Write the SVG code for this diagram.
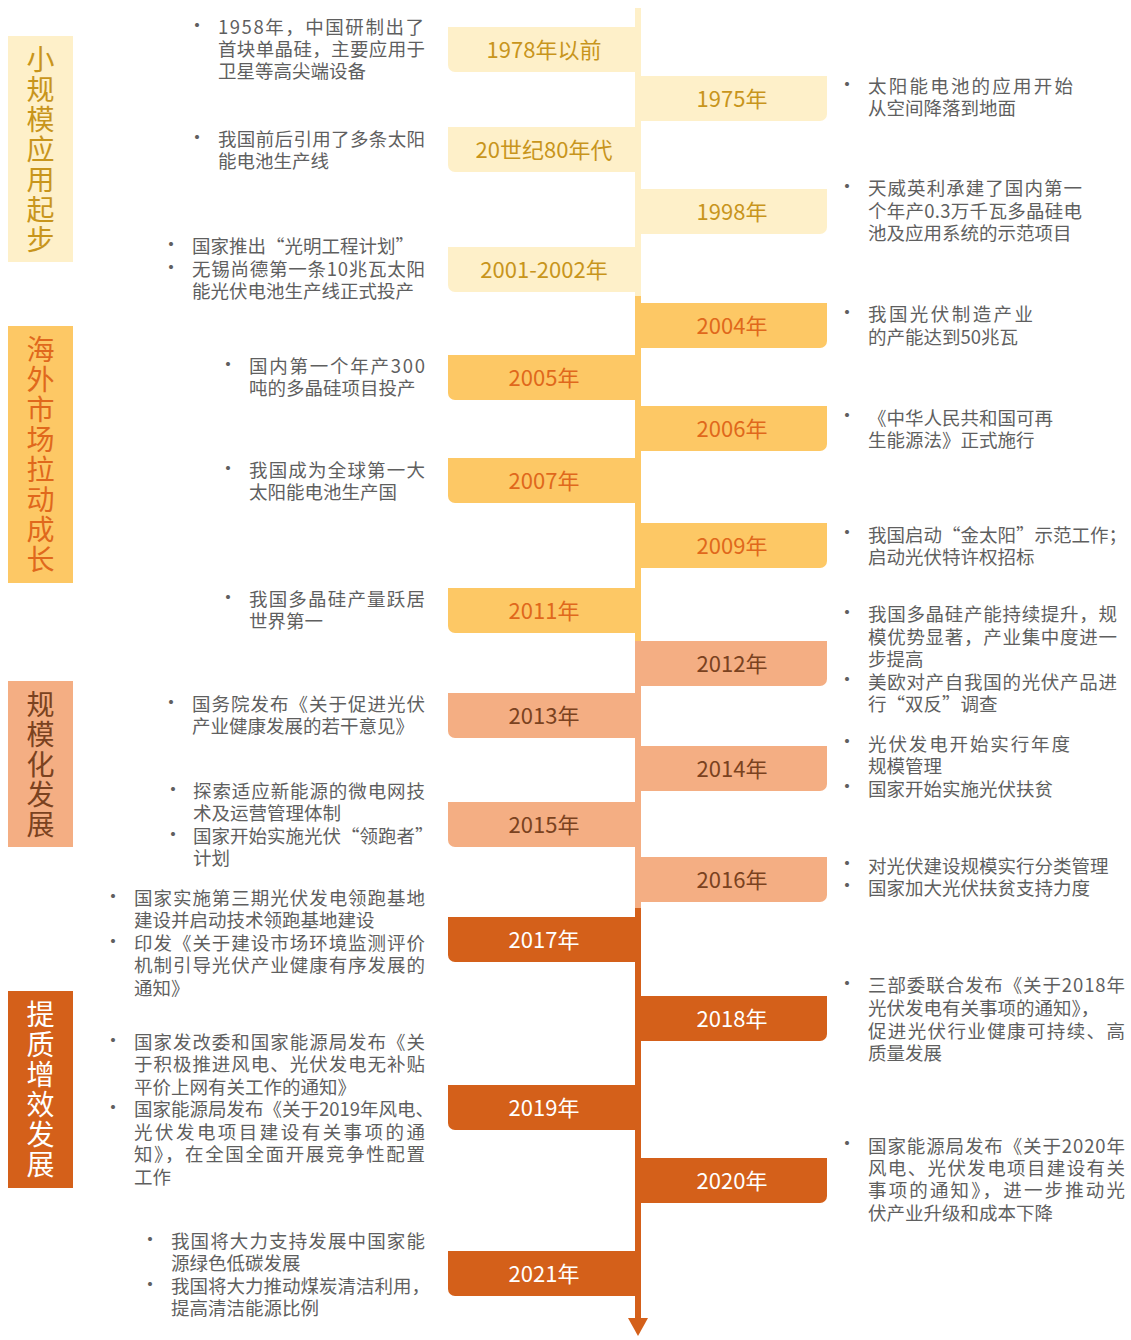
<svg xmlns="http://www.w3.org/2000/svg" width="1131" height="1340" viewBox="0 0 1131 1340">
<style>
text{font-family:"Noto Sans CJK SC","Noto Sans",sans-serif;}
.d{font-size:18.5px;fill:#5f5f5f;}
.b{font-size:19px;fill:#5f5f5f;text-anchor:middle;}
.y{font-size:22px;text-anchor:middle;}
.s{font-size:28px;text-anchor:middle;writing-mode:vertical-rl;letter-spacing:2px;}
.f1{fill:#FEF0C9;} .f2{fill:#FDC865;} .f3{fill:#F4AE83;} .f4{fill:#D4601A;}
.t1{fill:#C8951C;} .t2{fill:#E0681C;} .t3{fill:#7A4220;} .t4{fill:#FFFFFF;}
</style>
<rect width="1131" height="1340" fill="#FFFFFF"/>

<!-- stage labels -->
<g id="stage1"><rect class="f1" x="8" y="36" width="65" height="226"/>
<text class="s t1" x="40.5" y="150">小规模应用起步</text></g>
<g id="stage2"><rect class="f2" x="8" y="326" width="65" height="257"/>
<text class="s t2" x="40.5" y="455.5">海外市场拉动成长</text></g>
<g id="stage3"><rect class="f3" x="8" y="681" width="65" height="166"/>
<text class="s t3" x="40.5" y="765">规模化发展</text></g>
<g id="stage4"><rect class="f4" x="8" y="991" width="65" height="197"/>
<text class="s t4" x="40.5" y="1090.5">提质增效发展</text></g>

<!-- year nodes: left -->
<g id="y1978"><path class="f1" d="M448 27H641V72H455A7 7 0 0 1 448 65Z"/><text class="y t1" x="544" y="57.5">1978年以前</text></g>
<g id="y1980s"><path class="f1" d="M448 127H641V172H455A7 7 0 0 1 448 165Z"/><text class="y t1" x="544" y="157.5">20世纪80年代</text></g>
<g id="y2001"><path class="f1" d="M448 247H641V292H455A7 7 0 0 1 448 285Z"/><text class="y t1" x="544" y="277.5">2001-2002年</text></g>
<g id="y2005"><path class="f2" d="M448 355H641V400H455A7 7 0 0 1 448 393Z"/><text class="y t2" x="544" y="385.5">2005年</text></g>
<g id="y2007"><path class="f2" d="M448 458H641V503H455A7 7 0 0 1 448 496Z"/><text class="y t2" x="544" y="488.5">2007年</text></g>
<g id="y2011"><path class="f2" d="M448 588H641V633H455A7 7 0 0 1 448 626Z"/><text class="y t2" x="544" y="618.5">2011年</text></g>
<g id="y2013"><path class="f3" d="M448 693H641V738H455A7 7 0 0 1 448 731Z"/><text class="y t3" x="544" y="723.5">2013年</text></g>
<g id="y2015"><path class="f3" d="M448 802H641V847H455A7 7 0 0 1 448 840Z"/><text class="y t3" x="544" y="832.5">2015年</text></g>
<g id="y2017"><path class="f4" d="M448 917H641V962H455A7 7 0 0 1 448 955Z"/><text class="y t4" x="544" y="947.5">2017年</text></g>
<g id="y2019"><path class="f4" d="M448 1085H641V1130H455A7 7 0 0 1 448 1123Z"/><text class="y t4" x="544" y="1115.5">2019年</text></g>
<g id="y2021"><path class="f4" d="M448 1251H641V1296H455A7 7 0 0 1 448 1289Z"/><text class="y t4" x="544" y="1281.5">2021年</text></g>

<!-- year nodes: right -->
<g id="y1975"><path class="f1" d="M635 76H827V114A7 7 0 0 1 820 121H635Z"/><text class="y t1" x="732" y="106.5">1975年</text></g>
<g id="y1998"><path class="f1" d="M635 189H827V227A7 7 0 0 1 820 234H635Z"/><text class="y t1" x="732" y="219.5">1998年</text></g>
<g id="y2004"><path class="f2" d="M635 303H827V341A7 7 0 0 1 820 348H635Z"/><text class="y t2" x="732" y="333.5">2004年</text></g>
<g id="y2006"><path class="f2" d="M635 406H827V444A7 7 0 0 1 820 451H635Z"/><text class="y t2" x="732" y="436.5">2006年</text></g>
<g id="y2009"><path class="f2" d="M635 523H827V561A7 7 0 0 1 820 568H635Z"/><text class="y t2" x="732" y="553.5">2009年</text></g>
<g id="y2012"><path class="f3" d="M635 641H827V679A7 7 0 0 1 820 686H635Z"/><text class="y t3" x="732" y="671.5">2012年</text></g>
<g id="y2014"><path class="f3" d="M635 746H827V784A7 7 0 0 1 820 791H635Z"/><text class="y t3" x="732" y="776.5">2014年</text></g>
<g id="y2016"><path class="f3" d="M635 857H827V895A7 7 0 0 1 820 902H635Z"/><text class="y t3" x="732" y="887.5">2016年</text></g>
<g id="y2018"><path class="f4" d="M635 996H827V1034A7 7 0 0 1 820 1041H635Z"/><text class="y t4" x="732" y="1026.5">2018年</text></g>
<g id="y2020"><path class="f4" d="M635 1158H827V1196A7 7 0 0 1 820 1203H635Z"/><text class="y t4" x="732" y="1188.5">2020年</text></g>

<!-- connectors: timeline -->
<g id="connectors">
<rect class="f1" x="635" y="8" width="6" height="288"/>
<rect class="f2" x="635" y="296" width="6" height="345"/>
<rect class="f3" x="635" y="641" width="6" height="267"/>
<rect class="f4" x="635" y="908" width="6" height="412"/>
<path class="f4" d="M628 1318H648L638 1336Z"/>
</g>

<!-- descriptions left -->
<g id="desc1978">
<text class="b" x="197" y="33">•</text>
<text class="d" x="218" y="33.5" textLength="206" lengthAdjust="spacing">1958年，中国研制出了</text>
<text class="d" x="218" y="56" textLength="207" lengthAdjust="spacing">首块单晶硅，主要应用于</text>
<text class="d" x="218" y="78">卫星等高尖端设备</text>
</g>
<g id="desc1980s">
<text class="b" x="197" y="145">•</text>
<text class="d" x="218" y="145.5" textLength="207" lengthAdjust="spacing">我国前后引用了多条太阳</text>
<text class="d" x="218" y="167.5">能电池生产线</text>
</g>
<g id="desc2001">
<text class="b" x="171" y="252">•</text>
<text class="d" x="192" y="252.5">国家推出“光明工程计划”</text>
<text class="b" x="171" y="275">•</text>
<text class="d" x="192" y="275.5" textLength="233" lengthAdjust="spacing">无锡尚德第一条10兆瓦太阳</text>
<text class="d" x="192" y="297.5">能光伏电池生产线正式投产</text>
</g>
<g id="desc2005">
<text class="b" x="228" y="372">•</text>
<text class="d" x="249" y="372.5" textLength="176" lengthAdjust="spacing">国内第一个年产300</text>
<text class="d" x="249" y="394.5">吨的多晶硅项目投产</text>
</g>
<g id="desc2007">
<text class="b" x="228" y="476">•</text>
<text class="d" x="249" y="476.5" textLength="176" lengthAdjust="spacing">我国成为全球第一大</text>
<text class="d" x="249" y="498.5">太阳能电池生产国</text>
</g>
<g id="desc2011">
<text class="b" x="228" y="605">•</text>
<text class="d" x="249" y="605.5" textLength="176" lengthAdjust="spacing">我国多晶硅产量跃居</text>
<text class="d" x="249" y="627.5">世界第一</text>
</g>
<g id="desc2013">
<text class="b" x="171" y="710">•</text>
<text class="d" x="192" y="710.5" textLength="233" lengthAdjust="spacing">国务院发布《关于促进光伏</text>
<text class="d" x="192" y="732.5">产业健康发展的若干意见》</text>
</g>
<g id="desc2015">
<text class="b" x="173" y="797">•</text>
<text class="d" x="193" y="797.5" textLength="232" lengthAdjust="spacing">探索适应新能源的微电网技</text>
<text class="d" x="193" y="819.5">术及运营管理体制</text>
<text class="b" x="173" y="842">•</text>
<text class="d" x="193" y="842.5">国家开始实施光伏“领跑者”</text>
<text class="d" x="193" y="864.5">计划</text>
</g>
<g id="desc2017">
<text class="b" x="113" y="904">•</text>
<text class="d" x="134" y="904.5" textLength="291" lengthAdjust="spacing">国家实施第三期光伏发电领跑基地</text>
<text class="d" x="134" y="926.5">建设并启动技术领跑基地建设</text>
<text class="b" x="113" y="949">•</text>
<text class="d" x="134" y="949.5" textLength="291" lengthAdjust="spacing">印发《关于建设市场环境监测评价</text>
<text class="d" x="134" y="972" textLength="291" lengthAdjust="spacing">机制引导光伏产业健康有序发展的</text>
<text class="d" x="134" y="995">通知》</text>
</g>
<g id="desc2019">
<text class="b" x="113" y="1048">•</text>
<text class="d" x="134" y="1048.5" textLength="291" lengthAdjust="spacing">国家发改委和国家能源局发布《关</text>
<text class="d" x="134" y="1071" textLength="291" lengthAdjust="spacing">于积极推进风电、光伏发电无补贴</text>
<text class="d" x="134" y="1093.5">平价上网有关工作的通知》</text>
<text class="b" x="113" y="1115">•</text>
<text class="d" x="134" y="1116">国家能源局发布《关于2019年风电、</text>
<text class="d" x="134" y="1138.5" textLength="291" lengthAdjust="spacing">光伏发电项目建设有关事项的通</text>
<text class="d" x="134" y="1161" textLength="291" lengthAdjust="spacing">知》，在全国全面开展竞争性配置</text>
<text class="d" x="134" y="1184">工作</text>
</g>
<g id="desc2021">
<text class="b" x="150" y="1247">•</text>
<text class="d" x="171" y="1247.5" textLength="254" lengthAdjust="spacing">我国将大力支持发展中国家能</text>
<text class="d" x="171" y="1269.5">源绿色低碳发展</text>
<text class="b" x="150" y="1292">•</text>
<text class="d" x="171" y="1292.5">我国将大力推动煤炭清洁利用，</text>
<text class="d" x="171" y="1314.5">提高清洁能源比例</text>
</g>

<!-- descriptions right -->
<g id="desc1975">
<text class="b" x="847" y="92">•</text>
<text class="d" x="868" y="93" textLength="205" lengthAdjust="spacing">太阳能电池的应用开始</text>
<text class="d" x="868" y="115">从空间降落到地面</text>
</g>
<g id="desc1998">
<text class="b" x="847" y="194">•</text>
<text class="d" x="868" y="195" textLength="214" lengthAdjust="spacing">天威英利承建了国内第一</text>
<text class="d" x="868" y="217.5" textLength="214" lengthAdjust="spacing">个年产0.3万千瓦多晶硅电</text>
<text class="d" x="868" y="239.5">池及应用系统的示范项目</text>
</g>
<g id="desc2004">
<text class="b" x="847" y="320">•</text>
<text class="d" x="868" y="321" textLength="165" lengthAdjust="spacing">我国光伏制造产业</text>
<text class="d" x="868" y="343.5">的产能达到50兆瓦</text>
</g>
<g id="desc2006">
<text class="b" x="847" y="423">•</text>
<text class="d" x="868" y="424.5">《中华人民共和国可再</text>
<text class="d" x="868" y="446.5">生能源法》正式施行</text>
</g>
<g id="desc2009">
<text class="b" x="847" y="540">•</text>
<text class="d" x="868" y="541.5">我国启动“金太阳”示范工作；</text>
<text class="d" x="868" y="563.5">启动光伏特许权招标</text>
</g>
<g id="desc2012">
<text class="b" x="847" y="620">•</text>
<text class="d" x="868" y="621" textLength="249" lengthAdjust="spacing">我国多晶硅产能持续提升，规</text>
<text class="d" x="868" y="643.5" textLength="249" lengthAdjust="spacing">模优势显著，产业集中度进一</text>
<text class="d" x="868" y="666">步提高</text>
<text class="b" x="847" y="687">•</text>
<text class="d" x="868" y="688.5" textLength="249" lengthAdjust="spacing">美欧对产自我国的光伏产品进</text>
<text class="d" x="868" y="710.5">行“双反”调查</text>
</g>
<g id="desc2014">
<text class="b" x="847" y="749">•</text>
<text class="d" x="868" y="750.5" textLength="202" lengthAdjust="spacing">光伏发电开始实行年度</text>
<text class="d" x="868" y="772.5">规模管理</text>
<text class="b" x="847" y="794">•</text>
<text class="d" x="868" y="795.5">国家开始实施光伏扶贫</text>
</g>
<g id="desc2016">
<text class="b" x="847" y="871">•</text>
<text class="d" x="868" y="872.5">对光伏建设规模实行分类管理</text>
<text class="b" x="847" y="893">•</text>
<text class="d" x="868" y="894.5">国家加大光伏扶贫支持力度</text>
</g>
<g id="desc2018">
<text class="b" x="847" y="991">•</text>
<text class="d" x="868" y="992" textLength="257" lengthAdjust="spacing">三部委联合发布《关于2018年</text>
<text class="d" x="868" y="1014.5">光伏发电有关事项的通知》，</text>
<text class="d" x="868" y="1038" textLength="257" lengthAdjust="spacing">促进光伏行业健康可持续、高</text>
<text class="d" x="868" y="1059.5">质量发展</text>
</g>
<g id="desc2020">
<text class="b" x="847" y="1151">•</text>
<text class="d" x="868" y="1152.5" textLength="257" lengthAdjust="spacing">国家能源局发布《关于2020年</text>
<text class="d" x="868" y="1174.5" textLength="257" lengthAdjust="spacing">风电、光伏发电项目建设有关</text>
<text class="d" x="868" y="1197" textLength="257" lengthAdjust="spacing">事项的通知》，进一步推动光</text>
<text class="d" x="868" y="1219.5">伏产业升级和成本下降</text>
</g>
</svg>
